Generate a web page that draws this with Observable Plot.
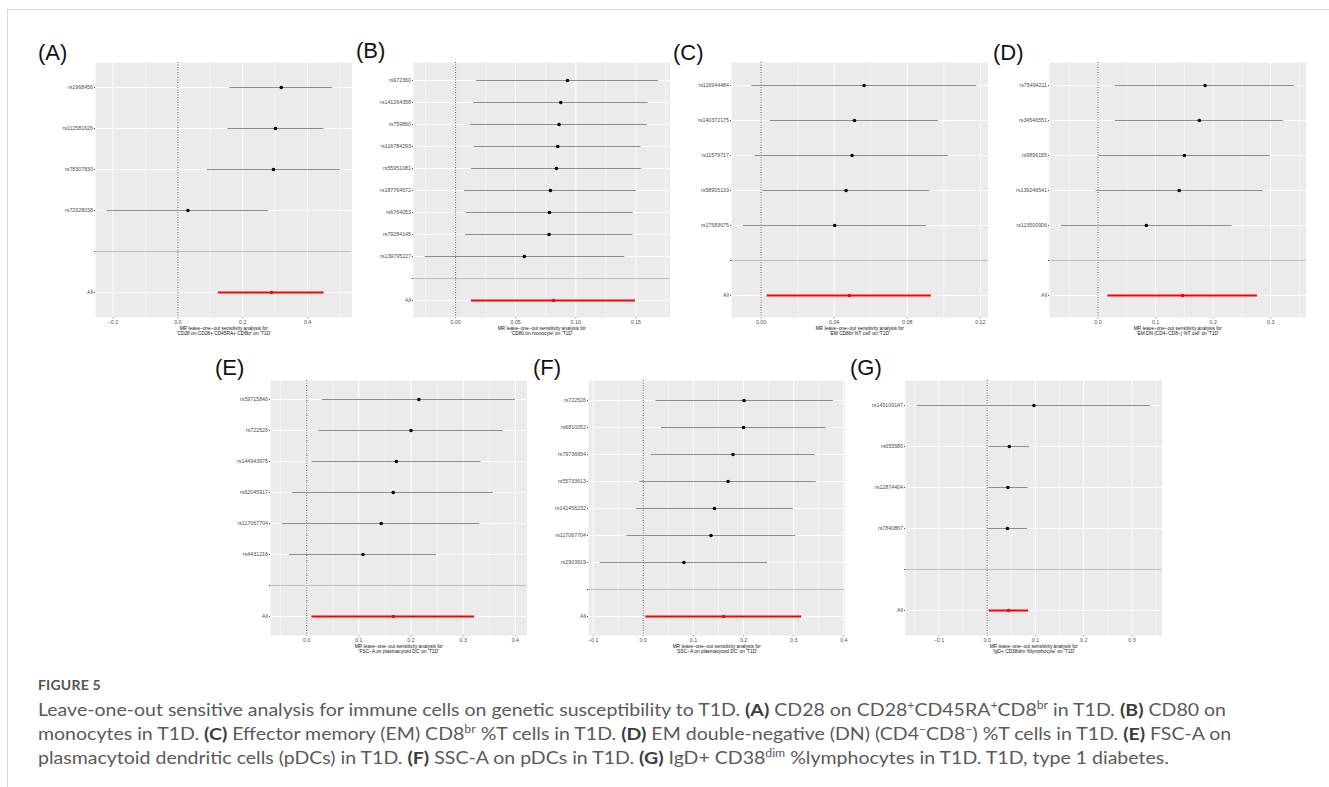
<!DOCTYPE html>
<html>
<head>
<meta charset="utf-8">
<script src="https://cdn.jsdelivr.net/npm/d3@7"></script>
<script src="https://cdn.jsdelivr.net/npm/@observablehq/plot@0.6"></script>
<style>
  html, body { margin: 0; padding: 0; background: #fff; width: 1329px; height: 787px; overflow: hidden; }
  #border { position: absolute; left: 7px; top: 9px; width: 1400px; height: 900px; border: 1px solid #d6d6d6; }
  .panel { position: absolute; }
  .panel svg { overflow: visible; display: block; }
  .plab { position: absolute; font-family: "Liberation Sans", Arial, sans-serif; font-size: 22px; line-height: 22px; color: #111; }
  #figlabel { position: absolute; left: 38px; top: 677px; font-family: Lato, "Noto Sans", sans-serif; font-weight: 700; font-size: 14px; line-height: 16px; color: #555; letter-spacing: 0.2px; }
  .cap { position: absolute; left: 38px; font-family: Lato, "Noto Sans", sans-serif; font-size: 17.5px; line-height: 24px; color: #5a5a5a; white-space: nowrap; transform-origin: 0 50%; }
  .cap b { color: #3c3c3c; }
  .cap sup { font-size: 11px; line-height: 0; vertical-align: 7px; }
</style>
</head>
<body>
<div id="border"></div>

<script>
// ---------------- data ----------------
// (A)
const snpA = ["rs1968456", "rs112581626", "rs78307830", "rs72928038"];
const bA   = [0.319, 0.301, 0.295, 0.031];
const loA  = [0.161, 0.154, 0.091, -0.218];
const hiA  = [0.477, 0.451, 0.501, 0.280];
const allA = [0.289, 0.125, 0.451];
const ticksA = [-0.2, 0, 0.2, 0.4];
const titleA = "MR leave\u2212one\u2212out sensitivity analysis for\n'CD28 on CD28+ CD45RA+ CD8br' on 'T1D'";

// (B)
const snpB = ["rs972360", "rs141264358", "rs759860", "rs116784293", "rs55951081", "rs187764672", "rs6764053", "rs79284145", "rs139795227"];
const bB   = [0.0931, 0.0875, 0.0861, 0.0850, 0.0839, 0.0789, 0.0781, 0.0778, 0.0572];
const loB  = [0.0173, 0.0153, 0.0122, 0.0156, 0.0133, 0.0075, 0.0089, 0.0083, -0.0253];
const hiB  = [0.1687, 0.1603, 0.1597, 0.1542, 0.1547, 0.1506, 0.1478, 0.1475, 0.1408];
const allB = [0.0814, 0.0131, 0.1497];
const ticksB = [0, 0.05, 0.10, 0.15];
const titleB = "MR leave\u2212one\u2212out sensitivity analysis for\n'CD80 on monocyte' on 'T1D'";

// (C)
const snpC = ["rs116944484", "rs140372175", "rs11579717", "rs58905133", "rs17583675"];
const bC   = [0.0564, 0.0511, 0.0498, 0.0465, 0.0403];
const loC  = [-0.0051, 0.0051, -0.0033, 0.0009, -0.0098];
const hiC  = [0.1178, 0.0970, 0.1027, 0.0925, 0.0905];
const allC = [0.0483, 0.0033, 0.0932];
const ticksC = [0, 0.04, 0.08, 0.12];
const titleC = "MR leave\u2212one\u2212out sensitivity analysis for\n'EM CD8br %T cell' on 'T1D'";

// (D)
const snpD = ["rs75494211", "rs34546551", "rs9896155", "rs139246541", "rs113500906"];
const bD   = [0.186, 0.176, 0.150, 0.141, 0.084];
const loD  = [0.030, 0.030, 0.001, -0.003, -0.064];
const hiD  = [0.341, 0.322, 0.299, 0.287, 0.233];
const allD = [0.147, 0.017, 0.277];
const ticksD = [0, 0.1, 0.2, 0.3];
const titleD = "MR leave\u2212one\u2212out sensitivity analysis for\n'EM DN (CD4\u2212CD8\u2212) %T cell' on 'T1D'";

// (E)
const snpE = ["rs59715840", "rs722526", "rs144943975", "rs62045917", "rs117067704", "rs4431216"];
const bE   = [0.215, 0.200, 0.172, 0.166, 0.143, 0.108];
const loE  = [0.030, 0.023, 0.010, -0.027, -0.047, -0.033];
const hiE  = [0.400, 0.377, 0.334, 0.358, 0.332, 0.249];
const allE = [0.166, 0.010, 0.322];
const ticksE = [0, 0.1, 0.2, 0.3, 0.4];
const titleE = "MR leave\u2212one\u2212out sensitivity analysis for\n'FSC\u2212A on plasmacytoid DC' on 'T1D'";

// (F)
const snpF = ["rs722526", "rs6810052", "rs79736654", "rs55733613", "rs142456232", "rs117067704", "rs2903919"];
const bF   = [0.201, 0.200, 0.179, 0.169, 0.142, 0.135, 0.081];
const loF  = [0.025, 0.036, 0.016, -0.007, -0.014, -0.033, -0.086];
const hiF  = [0.379, 0.365, 0.343, 0.345, 0.299, 0.304, 0.248];
const allF = [0.160, 0.005, 0.316];
const ticksF = [-0.1, 0, 0.1, 0.2, 0.3, 0.4];
const titleF = "MR leave\u2212one\u2212out sensitivity analysis for\n'SSC\u2212A on plasmacytoid DC' on 'T1D'";

// (G)
const snpG = ["rs143109147", "rs655580", "rs12874404", "rs7840867"];
const bG   = [0.097, 0.046, 0.043, 0.042];
const loG  = [-0.145, 0.004, 0.002, 0.001];
const hiG  = [0.338, 0.088, 0.085, 0.084];
const allG = [0.044, 0.004, 0.086];
const ticksG = [-0.1, 0, 0.1, 0.2, 0.3];
const titleG = "MR leave\u2212one\u2212out sensitivity analysis for\n'IgD+ CD38dim %lymphocyte' on 'T1D'";

const panelLabels = ["(A)", "(B)", "(C)", "(D)", "(E)", "(F)", "(G)"];

// ---------------- layout ----------------
const ML = 62, MR = 6, MT = 4, MB = 22, PW = 256.5, PH = 255;

function makePanel(snps, b, lo, hi, all, ticks, fmt, title) {
  const rows = snps.map((s, i) => ({snp: s, b: b[i], lo: lo[i], hi: hi[i]}));
  const allRow = [{snp: "All", b: all[0], lo: all[1], hi: all[2]}];
  const levels = [...snps, "", "All"];
  const ext = d3.extent([...rows, ...allRow].flatMap(d => [d.lo, d.hi]));
  const pad = (ext[1] - ext[0]) * 0.05;
  const dom = [ext[0] - pad, ext[1] + pad];
  const step = ticks[1] - ticks[0];
  const minor = [];
  for (let v = ticks[0] - step / 2 - 4 * step; v <= dom[1]; v += step) if (v >= dom[0]) minor.push(v);
  return Plot.plot({
    width: ML + PW + MR,
    height: MT + PH + MB,
    marginLeft: ML, marginRight: MR, marginTop: MT, marginBottom: MB,
    style: {fontFamily: "'Liberation Sans', Arial, sans-serif", fontSize: "5.3px", color: "#4d4d4d", background: "transparent", overflow: "visible"},
    x: {domain: dom, ticks: ticks, tickFormat: d3.format(fmt), tickSize: 1.2, tickPadding: 1.2, label: null},
    y: {type: "point", domain: levels, padding: 0.6, tickSize: 1, tickPadding: 1.5, label: null},
    marks: [
      Plot.frame({fill: "#EBEBEB", stroke: "none"}),
      Plot.ruleX(minor, {stroke: "#fff", strokeWidth: 0.5}),
      Plot.ruleX(ticks, {stroke: "#fff", strokeWidth: 1}),
      Plot.ruleY(levels, {stroke: "#fff", strokeWidth: 1}),
      Plot.ruleX([0], {stroke: "#333", strokeWidth: 0.8, strokeDasharray: "1,1.5"}),
      Plot.ruleY([""], {stroke: "#bebebe", strokeWidth: 1}),
      Plot.ruleY(rows, {y: "snp", x1: "lo", x2: "hi", stroke: "#8e8e8e", strokeWidth: 1.1}),
      Plot.ruleY(allRow, {y: "snp", x1: "lo", x2: "hi", stroke: "red", strokeWidth: 2}),
      Plot.dot(rows, {x: "b", y: "snp", r: 1.8, fill: "black", stroke: "none"}),
      Plot.dot(allRow, {x: "b", y: "snp", r: 1.8, fill: "red", stroke: "none"}),
      Plot.text([title], {frameAnchor: "bottom", lineAnchor: "top", dy: 8.5, fontSize: 4.8, fill: "#111", lineHeight: 1.15})
    ]
  });
}

const specs = [
  [snpA, bA, loA, hiA, allA, ticksA, ".1f", titleA, 95, 62],
  [snpB, bB, loB, hiB, allB, ticksB, ".2f", titleB, 413, 62],
  [snpC, bC, loC, hiC, allC, ticksC, ".2f", titleC, 731, 62],
  [snpD, bD, loD, hiD, allD, ticksD, ".1f", titleD, 1049, 62],
  [snpE, bE, loE, hiE, allE, ticksE, ".1f", titleE, 270, 380],
  [snpF, bF, loF, hiF, allF, ticksF, ".1f", titleF, 588, 380],
  [snpG, bG, loG, hiG, allG, ticksG, ".1f", titleG, 905, 380]
];
const labelPos = [[38, 42], [356, 40], [673, 42], [993, 42], [215, 357], [533, 357], [850, 357]];

specs.forEach((s, i) => {
  const div = document.createElement("div");
  div.className = "panel";
  div.style.left = (s[8] - ML) + "px";
  div.style.top = (s[9] - MT) + "px";
  div.appendChild(makePanel(s[0], s[1], s[2], s[3], s[4], s[5], s[6], s[7]));
  document.body.appendChild(div);
  const lab = document.createElement("div");
  lab.className = "plab";
  lab.textContent = panelLabels[i];
  lab.style.left = labelPos[i][0] + "px";
  lab.style.top = labelPos[i][1] + "px";
  document.body.appendChild(lab);
});
</script>

<div id="figlabel">FIGURE 5</div>
<div class="cap" id="l1" style="top:698px">Leave-one-out sensitive analysis for immune cells on genetic susceptibility to T1D. <b>(A)</b> CD28 on CD28<sup>+</sup>CD45RA<sup>+</sup>CD8<sup>br</sup> in T1D. <b>(B)</b> CD80 on</div>
<div class="cap" id="l2" style="top:722px">monocytes in T1D. <b>(C)</b> Effector memory (EM) CD8<sup>br</sup> %T cells in T1D. <b>(D)</b> EM double-negative (DN) (CD4<sup>−</sup>CD8<sup>−</sup>) %T cells in T1D. <b>(E)</b> FSC-A on</div>
<div class="cap" id="l3" style="top:746px">plasmacytoid dendritic cells (pDCs) in T1D. <b>(F)</b> SSC-A on pDCs in T1D. <b>(G)</b> IgD+ CD38<sup>dim</sup> %lymphocytes in T1D. T1D, type 1 diabetes.</div>
<script>
  // one common horizontal scale, set so that the first line spans the reference width
  const first = document.getElementById("l1");
  const k = 1188 / first.getBoundingClientRect().width;
  for (const id of ["l1", "l2", "l3"]) {
    document.getElementById(id).style.transform = "scaleX(" + k + ")";
  }
</script>
</body>
</html>
